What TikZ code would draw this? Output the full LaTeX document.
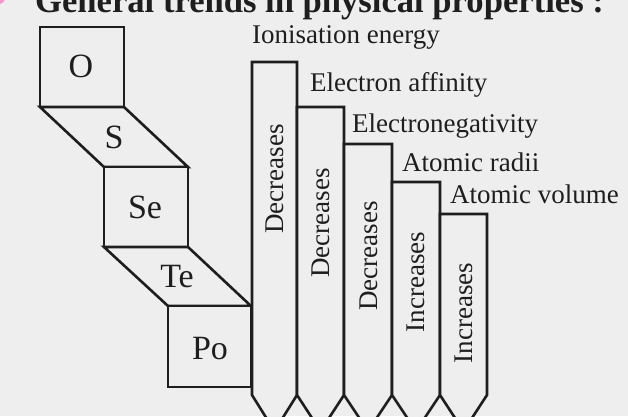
\documentclass[tikz,border=0pt]{standalone}
\usepackage{fontspec}
\setmainfont{Liberation Serif}
\definecolor{bg}{HTML}{EEEEEE}
\definecolor{ink}{HTML}{1E1E1E}
\definecolor{bullet}{HTML}{F06AB0}
\begin{document}
\begin{tikzpicture}[x=1pt,y=-1pt,
  outline/.style={draw=ink,line width=2.6pt,line join=miter,fill=bg},
  elem/.style={font=\fontsize{34}{34}\selectfont,text=ink,inner sep=0pt},
  prop/.style={font=\fontsize{27}{27}\selectfont,text=ink,inner sep=0pt,anchor=base west},
  trend/.style={font=\fontsize{27}{27}\selectfont,text=ink,inner sep=0pt,rotate=90},
  titletext/.style={font=\fontsize{34.6}{34.6}\selectfont\bfseries,text=ink,inner sep=0pt,anchor=base west}]
\fill[bg] (0,0) rectangle (628,416);
\useasboundingbox (0,0) rectangle (628,416);
\clip (0,0) rectangle (628,416);
% bullet and title
\fill[bullet!70] (-1,-2) circle (6);
\node[titletext] (title) at (35,12) {General trends in physical properties :};
% element stack
\draw[outline] (40,27) rectangle (124,107);
\draw[outline] (40,107) -- (124,107) -- (188,167) -- (104,167) -- cycle;
\draw[outline] (104,167) rectangle (188,247);
\draw[outline] (104,247) -- (188,247) -- (251,306) -- (168,306) -- cycle;
\draw[outline] (168,306) rectangle (251,387);
\node[elem] (O) at (81,66) {O};
\node[elem] (S) at (114,137) {S};
\node[elem] (Se) at (145,207) {Se};
\node[elem] (Te) at (177,277) {Te};
\node[elem] (Po) at (210,349) {Po};
% columns
\foreach \l/\r/\t in {252/297/62, 297/344/107, 344/392/144, 392/440/182, 440/487/214}{
  \draw[outline] (\l,395) -- (\l,\t) -- (\r,\t) -- (\r,395) -- ({(\l+\r)/2},431) -- cycle;
}
% trend labels
\node[trend] (t1) at (275,179) {Decreases};
\node[trend] (t2) at (321,223) {Decreases};
\node[trend] (t3) at (369,256) {Decreases};
\node[trend] (t4) at (416,282) {Increases};
\node[trend] (t5) at (464,313) {Increases};
% property labels
\node[prop] (p1) at (252,43) {Ionisation energy};
\node[prop] (p2) at (310,91) {Electron affinity};
\node[prop] (p3) at (352,132) {Electronegativity};
\node[prop] (p4) at (402,171) {Atomic radii};
\node[prop] (p5) at (450,203) {Atomic volume};
\end{tikzpicture}
\end{document}
